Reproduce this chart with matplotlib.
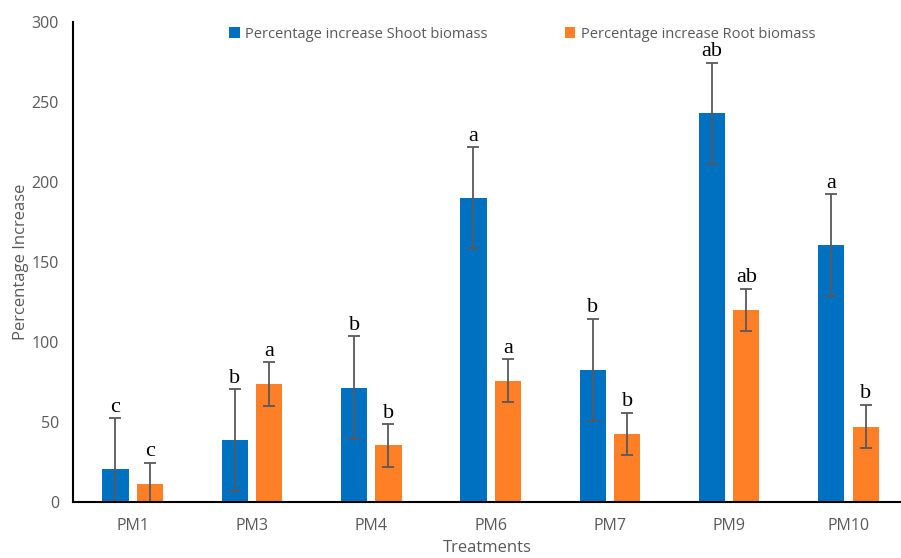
import matplotlib.pyplot as plt
import numpy as np

treatments = ['PM1', 'PM3', 'PM4', 'PM6', 'PM7', 'PM9', 'PM10']
shoot = [20.2, 38.6, 71.3, 190.0, 82.3, 242.7, 160.4]
shoot_err = [32.0, 31.8, 32.0, 31.6, 32.0, 31.7, 31.8]
root = [11.1, 73.4, 35.2, 75.6, 42.3, 119.8, 46.9]
root_err = [13.3, 13.7, 13.4, 13.4, 13.2, 13.3, 13.6]
shoot_letters = ['c', 'b', 'b', 'a', 'b', 'ab', 'a']
root_letters = ['c', 'a', 'b', 'a', 'b', 'ab', 'b']

blue = '#0070C0'
orange = '#FF7F27'
grey = '#595959'

fig = plt.figure(figsize=(9.01, 5.58), dpi=100)
ax = fig.add_axes([0.081, 0.101, 0.919, 0.860])

x = np.arange(len(treatments))
width = 0.22
off = 0.144

ax.bar(x - off, shoot, width, color=blue, label='Percentage increase Shoot biomass')
ax.bar(x + off, root, width, color=orange, label='Percentage increase Root biomass')
ax.errorbar(x - off, shoot, yerr=shoot_err, fmt='none', ecolor=grey,
            elinewidth=1.3, capsize=4, capthick=1.3)
ax.errorbar(x + off, root, yerr=root_err, fmt='none', ecolor=grey,
            elinewidth=1.3, capsize=4, capthick=1.3)

# significance letters above the error bars
for i in range(len(treatments)):
    ax.text(x[i] - off, shoot[i] + shoot_err[i] + 4, shoot_letters[i],
            ha='center', va='baseline', fontsize=16, family='Liberation Serif')
    ax.text(x[i] + off, root[i] + root_err[i] + 4, root_letters[i],
            ha='center', va='baseline', fontsize=16, family='Liberation Serif')

ax.set_xlim(-0.5, 6.44)
ax.set_ylim(0, 300)
ax.set_yticks([0, 50, 100, 150, 200, 250, 300])
ax.set_xticks(x)
ax.set_xticklabels(treatments)
ax.tick_params(axis='both', length=0, labelsize=11.5, colors=grey, labelfontfamily='Open Sans')
ax.tick_params(axis='x', pad=12)
ax.tick_params(axis='y', pad=10)

for s in ['top', 'right']:
    ax.spines[s].set_visible(False)
ax.spines['left'].set_linewidth(1.5)
ax.spines['bottom'].set_linewidth(1.5)

ax.set_ylabel('Percentage Increase', fontsize=12, color=grey, family='Open Sans', labelpad=2)
ax.set_xlabel('Treatments', fontsize=12, color=grey, family='Open Sans', labelpad=4)

leg = fig.legend(loc='center', bbox_to_anchor=(0.58, 0.939), ncol=2, frameon=False,
                 handlelength=0.7, handleheight=0.7, handletextpad=0.4,
                 columnspacing=5.3, prop={'family': 'Open Sans', 'size': 10.5})
for t in leg.get_texts():
    t.set_color(grey)

fig.savefig('out.png', dpi=100)
